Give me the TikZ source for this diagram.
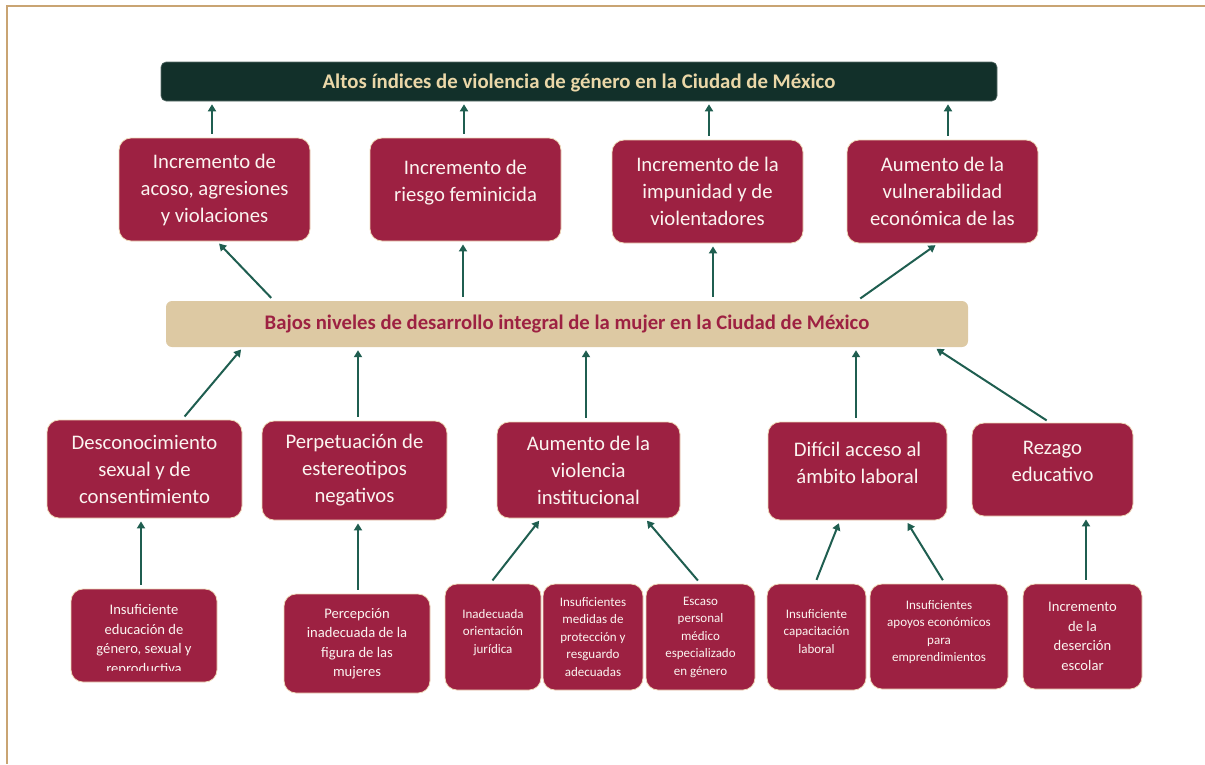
\documentclass[tikz,border=0pt]{standalone}
\usepackage{fontspec}
\setmainfont{Carlito}
\usetikzlibrary{arrows.meta}
\definecolor{darkbar}{HTML}{12302A}
\definecolor{arrowc}{HTML}{1F5E50}
\definecolor{crim}{HTML}{9D2142}
\definecolor{beige}{HTML}{DDC9A3}
\definecolor{framec}{HTML}{C9A473}
\definecolor{bartext}{HTML}{EAD7A8}
\definecolor{edgec}{HTML}{EED9B8}
\definecolor{boxtext}{HTML}{FBF4F0}
\newcommand{\liftup}[1]{\\[#1]\mbox{}}
\begin{document}
\begin{tikzpicture}[x=1pt,y=-1pt,
  wh/.style 2 args={minimum width=#1pt,minimum height=#2pt},
  box/.style={draw=edgec,line width=0.8pt,fill=crim,text=boxtext,rounded corners=12pt,align=center,inner sep=0pt},
  bigbox/.style={box,font=\fontsize{20.7}{27}\selectfont},
  midbox/.style={box,font=\fontsize{14.6}{19.5}\selectfont},
  smallbox/.style={box,font=\fontsize{13}{17.5}\selectfont},
  barbox/.style={fill=darkbar,draw=darkbar!70!white,line width=0.6pt,rounded corners=5pt,text=bartext,inner sep=0pt,text depth=0pt,font=\bfseries\fontsize{20.8}{24}\selectfont},
  bandbox/.style={fill=beige,rounded corners=6pt,text=crim,inner sep=0pt,font=\bfseries\fontsize{20.7}{24}\selectfont},
  arr/.style={draw=arrowc,line width=2pt,-{Triangle[width=8pt,length=7pt]},shorten <=4pt,shorten >=3pt}
]
\useasboundingbox (0,0) rectangle (1205,764);
\draw[framec,line width=1.2pt] (1205,6) -- (7,6) -- (7,764);

% top bar
\node[barbox,wh={836}{39}] (top) at (579,81.5) {Altos índices de violencia de género en la Ciudad de México};

% row 1
\node[bigbox,wh={191}{103}] (r1) at (214.5,189.5) {Incremento de\\acoso, agresiones\\y violaciones};
\node[bigbox,wh={191}{103}] (r2) at (465.5,189.5) {Incremento de\\riesgo feminicida\liftup{-10pt}};
\node[bigbox,wh={191}{103}] (r3) at (707.5,191.5) {Incremento de la\\impunidad y de\\violentadores};
\node[bigbox,wh={191}{103}] (r4) at (942.5,191.5) {Aumento de la\\vulnerabilidad\\económica de las};

% band
\node[bandbox,wh={802}{46}] (band) at (567,324) {Bajos niveles de desarrollo integral de la mujer en la Ciudad de México};

% row 2
\node[bigbox,wh={195}{98}] (d1) at (144.5,469) {Desconocimiento\\sexual y de\\consentimiento};
\node[bigbox,wh={185}{99}] (d2) at (354.5,470.5) {Perpetuación de\\estereotipos\\negativos};
\node[bigbox,wh={183}{96}] (d3) at (588.5,470) {Aumento de la\\violencia\\institucional};
\node[bigbox,wh={179}{98}] (d4) at (857.5,471) {Difícil acceso al\\ámbito laboral\liftup{-10pt}};
\node[bigbox,wh={161}{93}] (d5) at (1052.5,469.5) {Rezago\\educativo\liftup{-10pt}};

% row 3
\node[midbox,wh={146}{93}] (s1) at (144,635.5) {};
\begin{scope}
\clip (71,589) rectangle (217,670);
\node[midbox,draw=none,fill=none] (s1t) at (144,640) {Insuficiente\\educación de\\género, sexual y\\reproductiva};
\end{scope}
\node[midbox,wh={146}{99}] (s2) at (357,643.5) {Percepción\\inadecuada de la\\figura de las\\mujeres};
\node[smallbox,wh={96}{106}] (s3) at (493,637) {Inadecuada\\orientación\\jurídica\liftup{-6pt}};
\node[smallbox,wh={100}{106}] (s4) at (593,637) {Insuficientes\\medidas de\\protección y\\resguardo\\adecuadas};
\node[smallbox,wh={109}{106}] (s5) at (700.5,637) {Escaso\\personal\\médico\\especializado\\en género};
\node[smallbox,wh={99}{106}] (s6) at (816.5,637) {Insuficiente\\capacitación\\laboral\liftup{-6pt}};
\node[smallbox,wh={138}{105}] (s7) at (939,636.5) {Insuficientes\\apoyos económicos\\para\\emprendimientos\liftup{-6pt}};
\node[midbox,wh={119}{105}] (s8) at (1082.5,636.5) {Incremento\\de la\\deserción\\escolar};

% arrows row1 -> top
\draw[arr] ([xshift=-2.5pt]r1.north) -- ([xshift=-2.5pt]r1.north |- top.south);
\draw[arr] ([xshift=-1.5pt]r2.north) -- ([xshift=-1.5pt]r2.north |- top.south);
\draw[arr] ([xshift=1.5pt]r3.north) -- ([xshift=1.5pt]r3.north |- top.south);
\draw[arr] ([xshift=5.5pt]r4.north) -- ([xshift=5.5pt]r4.north |- top.south);

% arrows band -> row1
\draw[arr] ([xshift=-293pt]band.north) -- ([xshift=2.5pt]r1.south);
\draw[arr] ([xshift=-104pt]band.north) -- ([xshift=-2.5pt]r2.south);
\draw[arr] ([xshift=146pt]band.north) -- ([xshift=5.5pt]r3.south);
\draw[arr] ([xshift=290pt]band.north) -- ([xshift=-4.5pt]r4.south);

% arrows row2 -> band
\draw[arr] ([xshift=37.5pt]d1.north) -- ([xshift=-324pt]band.south);
\draw[arr] ([xshift=3.5pt]d2.north) -- ([xshift=-209pt]band.south);
\draw[arr] ([xshift=-2.5pt]d3.north) -- ([xshift=19pt]band.south);
\draw[arr] ([xshift=-1.5pt]d4.north) -- ([xshift=289pt]band.south);
\draw[arr] ([xshift=-2.5pt]d5.north) -- ([xshift=367pt]band.south);

% arrows row3 -> row2
\draw[arr] ([xshift=-3pt]s1.north) -- ([xshift=-3.5pt]d1.south);
\draw[arr] ([xshift=1pt]s2.north) -- ([xshift=3.5pt]d2.south);
\draw[arr] ([xshift=-3pt]s3.north) -- ([xshift=-47.5pt]d3.south);
\draw[arr] (s5.north) -- ([xshift=56.5pt]d3.south);
\draw[arr] ([xshift=-1.5pt]s6.north) -- ([xshift=-17.5pt]d4.south);
\draw[arr] ([xshift=6pt]s7.north) -- ([xshift=48.5pt]d4.south);
\draw[arr] ([xshift=3.5pt]s8.north) -- ([xshift=33.5pt]d5.south);
\end{tikzpicture}
\end{document}
